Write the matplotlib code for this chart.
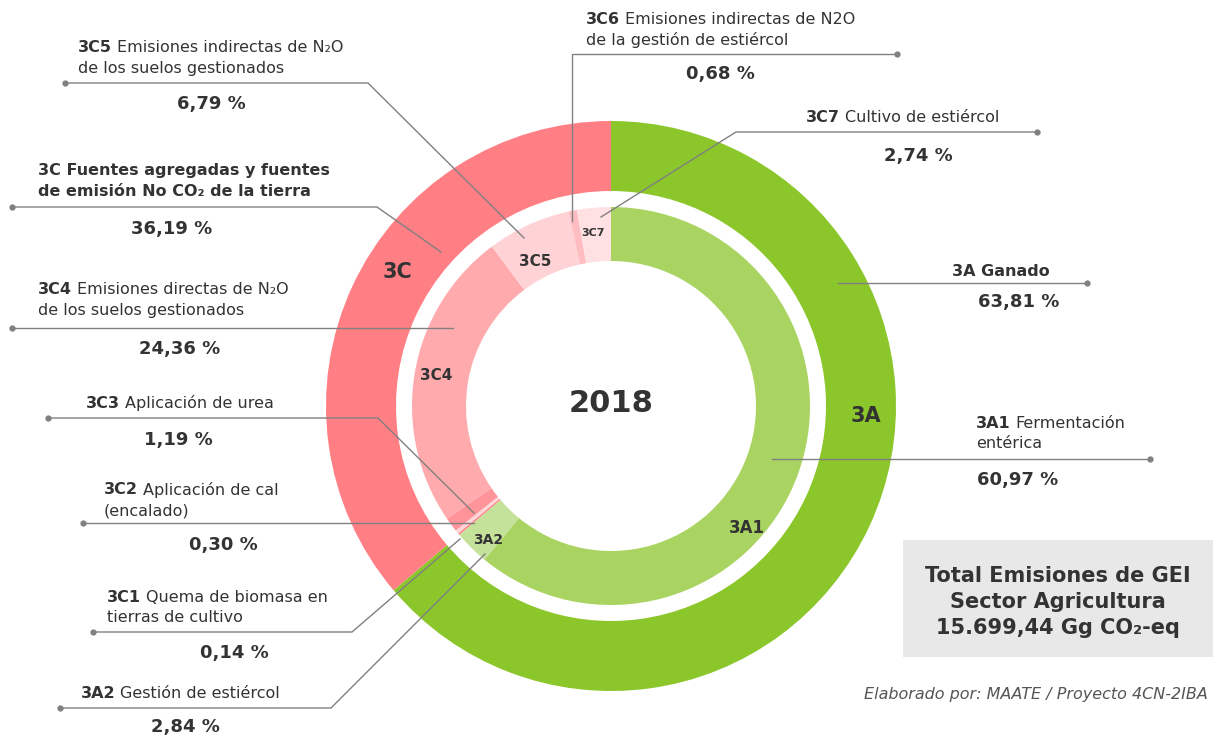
import matplotlib.pyplot as plt
from matplotlib.patches import Rectangle

plt.rcParams['font.family'] = ['DejaVu Sans']

# data
outer_labels = ['3A', '3C']
outer_values = [63.81, 36.19]
outer_colors = ['#8BC62A', '#FF7F85']

inner_labels = ['3A1', '3A2', '3C1', '3C2', '3C3', '3C4', '3C5', '3C6', '3C7']
inner_values = [60.97, 2.84, 0.14, 0.30, 1.19, 24.36, 6.79, 0.68, 2.74]
inner_colors = ['#A9D461', '#C5E29A', '#FF7F85', '#FFD5D8', '#FF959B',
                '#FFABAE', '#FFD3D6', '#FFBCC1', '#FFE1E3']

descriptions = {
    '3A': 'Ganado',
    '3C': 'Fuentes agregadas y fuentes\nde emisión No CO₂ de la tierra',
    '3A1': 'Fermentación\nentérica',
    '3A2': 'Gestión de estiércol',
    '3C1': 'Quema de biomasa en\ntierras de cultivo',
    '3C2': 'Aplicación de cal\n(encalado)',
    '3C3': 'Aplicación de urea',
    '3C4': 'Emisiones directas de N₂O\nde los suelos gestionados',
    '3C5': 'Emisiones indirectas de N₂O\nde los suelos gestionados',
    '3C6': 'Emisiones indirectas de N2O\nde la gestión de estiércol',
    '3C7': 'Cultivo de estiércol',
}
year = '2018'
total_text = 'Total Emisiones de GEI\nSector Agricultura\n15.699,44 Gg CO₂-eq'
source = 'Elaborado por: MAATE / Proyecto 4CN-2IBA'

values = dict(zip(outer_labels + inner_labels, outer_values + inner_values))

TXT = '#333333'
LINE = '#808080'

# layout (pixels): text x, first line y, percent centre, leader path from dot
layout = {
    '3C5': (78, 48, (211, 104), [(65, 83), (368, 83), (524, 238)]),
    '3C': (38, 170, (172, 229), [(12, 207), (377, 207), (441, 252)]),
    '3C4': (38, 290, (180, 349), [(12, 328), (453, 328)]),
    '3C3': (86, 403, (178, 440), [(48, 418), (378, 418), (474, 513)]),
    '3C2': (104, 490, (223, 545), [(83, 523), (474, 523)]),
    '3C1': (107, 597, (234, 653), [(93, 632), (352, 632), (460, 539)]),
    '3A2': (81, 694, (185, 727), [(60, 708), (331, 708), (485, 554)]),
    '3C6': (586, 19, (720, 74), [(897, 54), (572, 54), (572, 221)]),
    '3C7': (806, 118, (918, 156), [(1037, 132), (736, 132), (601, 217)]),
    '3A': (952, 271, (1019, 302), [(1087, 283), (838, 283)]),
    '3A1': (976, 423, (1018, 480), [(1150, 459), (772, 459)]),
}
ring_text = {
    '3C': (397, 272, 15), '3A': (866, 416, 15), '3C4': (436, 376, 11),
    '3C5': (535, 262, 11), '3C7': (593, 233, 8), '3A1': (747, 528, 12),
    '3A2': (488, 540, 10),
}

fig = plt.figure(figsize=(12.13, 7.40), dpi=100)
ax = fig.add_axes([0, 0, 1, 1])

cx, cy = 611, 406
ax.pie(outer_values, radius=285, center=(cx, cy), colors=outer_colors,
       startangle=-90, counterclock=True,
       wedgeprops=dict(width=70, linewidth=0))
ax.pie(inner_values, radius=199, center=(cx, cy), colors=inner_colors,
       startangle=-90, counterclock=True,
       wedgeprops=dict(width=54, linewidth=0))

ax.set_xlim(0, 1213)
ax.set_ylim(740, 0)
ax.set_aspect('equal')
ax.axis('off')

ax.text(cx, 404, year, ha='center', va='center', fontsize=22,
        fontweight='bold', color=TXT)

for lab, (x, y, fs) in ring_text.items():
    ax.text(x, y, lab, ha='center', va='center', fontsize=fs,
            fontweight='bold', color=TXT)

FS = 11.5
for code, (tx, ty, (px, py), path) in layout.items():
    lines = descriptions[code].split('\n')
    if code in ('3C', '3A'):
        for i, ln in enumerate(lines):
            head = code + ' ' + ln if i == 0 else ln
            ax.text(tx, ty + 21 * i, head, ha='left', va='center',
                    fontsize=FS, fontweight='bold', color=TXT)
    else:
        t = ax.text(tx, ty, code, ha='left', va='center', fontsize=FS,
                    fontweight='bold', color=TXT)
        ax.annotate(lines[0], xy=(1, 0.5), xycoords=t, xytext=(3.5, 0),
                    textcoords='offset points', ha='left', va='center',
                    fontsize=FS, color=TXT)
        for i, ln in enumerate(lines[1:], start=1):
            ax.text(tx, ty + 21 * i, ln, ha='left', va='center',
                    fontsize=FS, color=TXT)
    pct = f'{values[code]:.2f}'.replace('.', ',') + ' %'
    ax.text(px, py, pct, ha='center', va='center', fontsize=13,
            fontweight='bold', color=TXT)
    xs = [p[0] for p in path]
    ys = [p[1] for p in path]
    ax.plot(xs, ys, color=LINE, lw=1, solid_joinstyle='miter')
    ax.plot(xs[0], ys[0], 'o', color=LINE, ms=3.5)

ax.add_patch(Rectangle((903, 540), 320, 117, facecolor='#E8E8E8',
                       edgecolor='none'))
ax.text(1058, 602, total_text, ha='center', va='center', fontsize=15,
        fontweight='bold', color=TXT, linespacing=1.35)
ax.text(1208, 694, source, ha='right', va='center', fontsize=11.5,
        style='italic', color='#555555')

fig.savefig('out.png', dpi=100)
